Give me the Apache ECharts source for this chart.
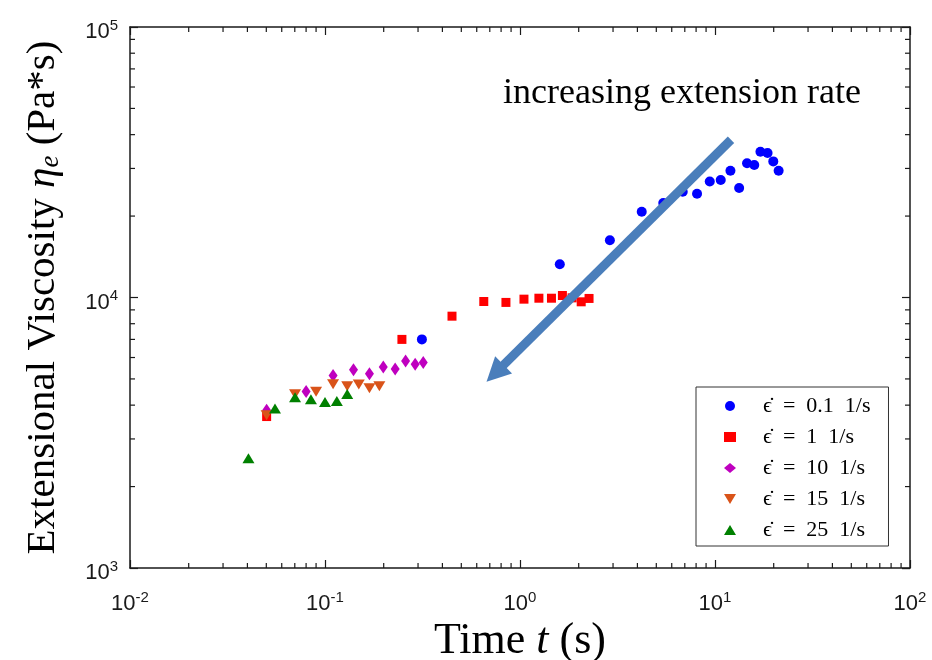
<!DOCTYPE html>
<html><head><meta charset="utf-8">
<script src="https://cdn.jsdelivr.net/npm/echarts@6/dist/echarts.min.js"></script>
<style>html,body{margin:0;padding:0;background:#fff}#c{width:932px;height:660px}</style>
</head><body><div id="c"></div>
<script>
// ---- data ----
const seriesNames = ['ϵ̇ = 0.1 1/s', 'ϵ̇ = 1 1/s', 'ϵ̇ = 10 1/s', 'ϵ̇ = 15 1/s', 'ϵ̇ = 25 1/s'];
const blueT = [0.314, 1.60, 2.89, 4.21, 5.43, 6.83, 8.09, 9.40, 10.7, 12.0, 13.3, 14.6, 15.9, 17.1, 18.6, 19.9, 21.2];
const blueV = [7000, 13270, 16270, 20760, 22350, 24600, 24200, 26850, 27170, 29420, 25400, 31350, 30900, 34600, 34200, 31850, 29420];
const redT = [0.0502, 0.248, 0.448, 0.652, 0.847, 1.048, 1.25, 1.45, 1.65, 1.85, 2.06, 2.26];
const redV = [3630, 7000, 8530, 9666, 9590, 9860, 9940, 9940, 10170, 9970, 9640, 9920];
const magT = [0.0502, 0.080, 0.110, 0.140, 0.169, 0.199, 0.229, 0.259, 0.290, 0.319];
const magV = [3830, 4490, 5150, 5410, 5230, 5530, 5440, 5830, 5670, 5750];
const orT = [0.0502, 0.0702, 0.090, 0.110, 0.130, 0.149, 0.169, 0.190];
const orV = [3670, 4390, 4480, 4780, 4700, 4770, 4620, 4700];
const grT = [0.0405, 0.0554, 0.0702, 0.0847, 0.100, 0.115, 0.130];
const grV = [2545, 3890, 4280, 4210, 4110, 4140, 4400];
const xRange = [0.01, 100];
const yRange = [1000, 100000];
const arrowStart = [12.08, 38300];
const arrowEnd = [0.745, 5244];
const annotation = 'increasing extension rate';

// ---- helpers ----
const zip = (a, b) => a.map((v, i) => [v, b[i]]);
function minorValues(lo, hi) {
  const out = [];
  for (let e = Math.round(Math.log10(lo)); e < Math.round(Math.log10(hi)); e++) {
    for (let m = 2; m <= 9; m++) out.push(m * Math.pow(10, e));
  }
  return out;
}
const xMinor = minorValues(xRange[0], xRange[1]);
const yMinor = minorValues(yRange[0], yRange[1]);
const AX = '#1a1a1a';
const supFmt = v => '{b|10}{s|' + Math.round(Math.log10(v)) + '}';
const labelRich = {
  b: { fontSize: 22, fontFamily: 'Liberation Sans', color: AX, lineHeight: 28 },
  s: { fontSize: 15, fontFamily: 'Liberation Sans', color: AX, verticalAlign: 'top', lineHeight: 28 }
};
function baseAxis(extra) {
  return Object.assign({
    type: 'log', logBase: 10,
    axisLine: { show: true, lineStyle: { color: AX, width: 1.5 } },
    axisTick: { show: true, inside: true, length: 8, lineStyle: { color: AX, width: 1.2 } },
    splitLine: { show: false },
    minorTick: { show: false }
  }, extra);
}
const serif = 'Liberation Serif';
const legendIcons = ['circle', 'rect', 'diamond', 'path://M0,0L12,0L6,10Z', 'triangle'];

const chart = echarts.init(document.getElementById('c'), null, { renderer: 'canvas' });
chart.setOption({
  animation: false,
  backgroundColor: '#fff',
  grid: { left: 130, right: 22, top: 27, bottom: 92, containLabel: false, outerBoundsMode: 'none' },
  xAxis: [
    baseAxis({
      min: xRange[0], max: xRange[1], position: 'bottom',
      axisLabel: { formatter: supFmt, rich: labelRich, margin: 22 },
      name: '{r|Time }{i|t}{r| (s)}', nameLocation: 'middle', nameGap: 36,
      nameTextStyle: { rich: {
        r: { fontSize: 44, fontFamily: serif, color: '#000' },
        i: { fontSize: 44, fontFamily: serif, fontStyle: 'italic', color: '#000' } } }
    }),
    baseAxis({ min: xRange[0], max: xRange[1], position: 'top', axisLabel: { show: false } })
  ],
  yAxis: [
    baseAxis({
      min: yRange[0], max: yRange[1], position: 'left',
      axisLabel: { formatter: supFmt, rich: labelRich, margin: 12, padding: [10, 0, 0, 0] },
      name: '{r|Extensional Viscosity }{i|η}{sub|e}{r| (Pa*s)}', nameLocation: 'middle', nameGap: 66, nameRotate: 90,
      nameTextStyle: { rich: {
        r: { fontSize: 41, fontFamily: serif, color: '#000' },
        i: { fontSize: 41, fontFamily: serif, fontStyle: 'italic', color: '#000' },
        sub: { fontSize: 27, fontFamily: serif, fontStyle: 'italic', color: '#000', verticalAlign: 'bottom' } } }
    }),
    baseAxis({ min: yRange[0], max: yRange[1], position: 'right', axisLabel: { show: false } })
  ],
  legend: {
    data: seriesNames.map((n, i) => ({ name: n, icon: legendIcons[i] })),
    orient: 'vertical', left: 696, top: 387,
    backgroundColor: '#fff', borderColor: '#333', borderWidth: 1, borderRadius: 0,
    padding: [8, 18, 5, 28], itemGap: 9, itemWidth: 12, itemHeight: 10,
    formatter: n => n.replace(/ /g, '\u2002'),
    textStyle: { fontFamily: serif, fontSize: 22, color: '#000', padding: [0, 0, 0, 22] }
  },
  graphic: [{
    type: 'text', left: 503, top: 76, z: 100,
    style: { text: annotation, font: '36px "Liberation Serif"', fill: '#000' }
  }],
  series: [
    { name: seriesNames[0], type: 'scatter', data: zip(blueT, blueV), symbol: 'circle', symbolSize: 10, itemStyle: { color: '#0000ff', opacity: 1 } },
    { name: seriesNames[1], type: 'scatter', data: zip(redT, redV), symbol: 'rect', symbolSize: 9, itemStyle: { color: '#ff0000', opacity: 1 } },
    { name: seriesNames[2], type: 'scatter', data: zip(magT, magV), symbol: 'diamond', symbolSize: [9, 13], itemStyle: { color: '#bf00bf', opacity: 1 } },
    { name: seriesNames[3], type: 'scatter', data: zip(orT, orV), symbol: 'triangle', symbolRotate: 180, symbolSize: [12, 10], itemStyle: { color: '#d95319', opacity: 1 } },
    { name: seriesNames[4], type: 'scatter', data: zip(grT, grV), symbol: 'triangle', symbolSize: [12, 10], itemStyle: { color: '#008000', opacity: 1 } },
    {
      name: 'arrow', type: 'scatter', data: [], z: 10,
      markLine: {
        silent: true, symbol: ['none', 'triangle'], symbolSize: [24, 24], label: { show: false },
        lineStyle: { color: '#4a7ebb', width: 9, type: 'solid' },
        emphasis: { disabled: true },
        data: [[{ coord: arrowStart }, { coord: arrowEnd }]]
      }
    },
    {
      type: 'custom', name: 'xminor', clip: false, silent: true, z: 5,
      data: xMinor.map(v => [v, yRange[0]]),
      renderItem: (params, api) => {
        const v = api.value(0);
        const b = api.coord([v, yRange[0]]), t = api.coord([v, yRange[1]]);
        const st = { stroke: AX, lineWidth: 1.2 };
        return { type: 'group', children: [
          { type: 'line', shape: { x1: b[0], y1: b[1], x2: b[0], y2: b[1] - 5 }, style: st },
          { type: 'line', shape: { x1: t[0], y1: t[1], x2: t[0], y2: t[1] + 5 }, style: st }
        ] };
      }
    },
    {
      type: 'custom', name: 'yminor', clip: false, silent: true, z: 5,
      data: yMinor.map(v => [xRange[0], v]),
      renderItem: (params, api) => {
        const v = api.value(1);
        const l = api.coord([xRange[0], v]), r = api.coord([xRange[1], v]);
        const st = { stroke: AX, lineWidth: 1.2 };
        return { type: 'group', children: [
          { type: 'line', shape: { x1: l[0], y1: l[1], x2: l[0] + 5, y2: l[1] }, style: st },
          { type: 'line', shape: { x1: r[0], y1: r[1], x2: r[0] - 5, y2: r[1] }, style: st }
        ] };
      }
    }
  ]
});
</script></body></html>
